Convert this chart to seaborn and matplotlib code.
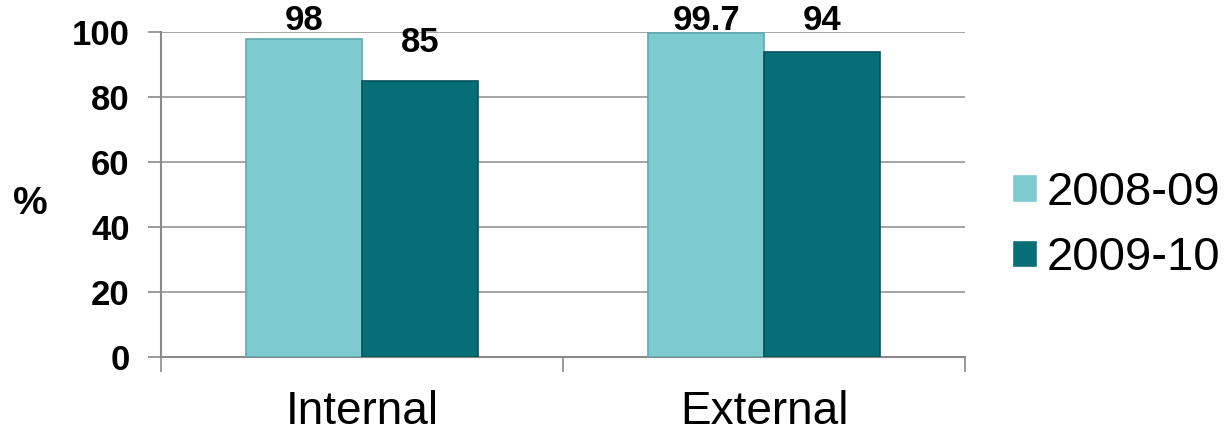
import matplotlib
matplotlib.use("Agg")
import matplotlib.pyplot as plt
import seaborn as sns
import pandas as pd

# data
categories = ["Internal", "External"]
years = ["2008-09", "2009-10"]
vals_0809 = [98, 99.7]
vals_0910 = [85, 94]
value_labels_0809 = ["98", "99.7"]
value_labels_0910 = ["85", "94"]

df = pd.DataFrame({
    "cat": categories * 2,
    "year": [years[0]] * 2 + [years[1]] * 2,
    "pct": vals_0809 + vals_0910,
    "lab": value_labels_0809 + value_labels_0910,
})

sns.set_style("white")
plt.rcParams["font.family"] = ["Liberation Sans", "DejaVu Sans"]
plt.rcParams["text.color"] = "black"
plt.rcParams["xtick.color"] = "black"
plt.rcParams["ytick.color"] = "black"

colors = {"2008-09": "#7ecad1", "2009-10": "#076d77"}
edges = {"2008-09": "#5fa9b0", "2009-10": "#04535b"}

fig = plt.figure(figsize=(12.25, 4.33), dpi=100)
ax = fig.add_axes([0.1314, 0.1755, 0.6564, 0.7505])

sns.barplot(data=df, x="cat", y="pct", hue="year", palette=colors,
            width=0.575, saturation=1, ax=ax, legend=True)

# edges to hint at the bevel
for cont, yr in zip(ax.containers, years):
    for p in cont.patches:
        p.set_edgecolor(edges[yr])
        p.set_linewidth(1.2)
        p.set_zorder(3)

# value labels (excel clamps the top ones under the frame)
for cont, yr in zip(ax.containers, years):
    labs = df[df.year == yr]["lab"].tolist()
    for p, lab in zip(cont.patches, labs):
        h = p.get_height()
        ax.text(p.get_x() + p.get_width() / 2, min(h + 6.7, 98.5), lab,
                ha="center", va="bottom", fontsize=25, fontweight="bold",
                color="black", zorder=5)

ax.set_ylim(0, 100)
ax.set_xlim(-0.5, 1.5)
ax.set_yticks([0, 20, 40, 60, 80, 100])
ax.yaxis.grid(True, color="#969696", linewidth=1.2)
ax.set_axisbelow(True)
for s in ["top", "right"]:
    ax.spines[s].set_visible(False)
ax.spines["left"].set_color("#8a8a8a")
ax.spines["left"].set_linewidth(1.5)
ax.spines["bottom"].set_color("#8a8a8a")
ax.spines["bottom"].set_linewidth(1.5)

ax.tick_params(axis="y", which="major", left=True, length=9.5, width=1.2,
               color="#8a8a8a", labelcolor="black", labelsize=25, pad=13,
               direction="out")
for t in ax.get_yticklabels():
    t.set_fontweight("bold")

# category labels without ticks; separator ticks at the boundaries
ax.set_xticks([0, 1])
ax.set_xticklabels(categories)
ax.tick_params(axis="x", which="major", bottom=False, length=0, labelsize=33,
               labelcolor="black", pad=24)
ax.set_xticks([-0.5, 0.5, 1.5], minor=True)
ax.tick_params(axis="x", which="minor", bottom=True, length=10.5, width=1.2,
               color="#8a8a8a", direction="out")

ax.set_xlabel("")
ax.set_ylabel("%", rotation=0, fontsize=28, fontweight="bold", va="center",
              color="black")
ax.yaxis.set_label_coords(-0.162, 0.47)

leg = ax.legend(loc="center left", bbox_to_anchor=(1.035, 0.405), frameon=False,
                fontsize=34, handlelength=0.52, handleheight=0.52,
                handletextpad=0.22, labelspacing=0.45, borderaxespad=0)
for t in leg.get_texts():
    t.set_color("black")

fig.savefig("out.png", dpi=100)
